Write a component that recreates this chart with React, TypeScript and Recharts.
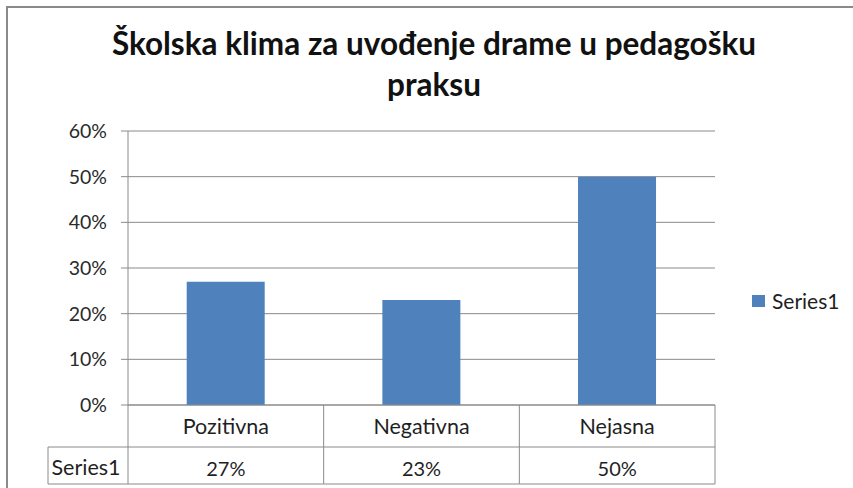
import { BarChart, Bar, XAxis, YAxis, CartesianGrid } from "recharts";

// Excel-style column chart with a data table under the category axis.
const categories = ["Pozitivna", "Negativna", "Nejasna"];
const values = [27, 23, 50];
const yTicks = [0, 10, 20, 30, 40, 50, 60];
const seriesName = "Series1";
const title = ["Školska klima za uvođenje drame u pedagošku", "praksu"];

const W = 853;
const H = 488;
const PLOT_LEFT = 128;
const PLOT_RIGHT = 715;
const PLOT_TOP = 131;
const PLOT_BOTTOM = 405;
const BAND = (PLOT_RIGHT - PLOT_LEFT) / categories.length;

const FONT = "Lato, 'Open Sans', sans-serif";
const TEXT = "#1f1f1f";
const LINE = "#8a8a8a";
const BLUE = "#4f81bd";

const data = categories.map((name, i) => ({ name, value: values[i] }));

function TableTick(props: any) {
  const { x, y, payload, index } = props;
  const left = x - BAND / 2;
  const right = x + BAND / 2;
  const row1 = y + 42;
  const row2 = y + 79;
  return (
    <g fontFamily={FONT} fill={TEXT}>
      <line x1={left} y1={y} x2={left} y2={row2} stroke={LINE} />
      {index === categories.length - 1 && <line x1={right} y1={y} x2={right} y2={row2} stroke={LINE} />}
      <line x1={index === 0 ? 48 : left} y1={row1} x2={right} y2={row1} stroke={LINE} />
      <line x1={index === 0 ? 48 : left} y1={row2} x2={right} y2={row2} stroke={LINE} />
      {index === 0 && (
        <>
          <line x1={48} y1={row1} x2={48} y2={row2} stroke={LINE} />
          <text x={86} y={y + 62} fontSize={21.5} textAnchor="middle" dominantBaseline="central">{seriesName}</text>
        </>
      )}
      <text x={x} y={y + 21} fontSize={21.5} textAnchor="middle" dominantBaseline="central">{payload.value}</text>
      <text x={x} y={y + 63} fontSize={20} textAnchor="middle" dominantBaseline="central">{values[index]}%</text>
    </g>
  );
}

export default function App() {
  return (
    <div style={{ position: "fixed", left: 0, top: 0, width: W, height: H, background: "#fff", overflow: "hidden" }}>
      <div style={{ position: "absolute", left: 6, top: 6, width: 1000, height: 700, border: `2px solid ${LINE}` }} />
      <div style={{ position: "absolute", left: 0, top: 23, width: 868, textAlign: "center", fontFamily: FONT,
        fontWeight: 700, fontSize: 31.5, lineHeight: "41px", color: "#111" }}>
        {title[0]}<br />{title[1]}
      </div>
      <div style={{ position: "absolute", left: 0, top: 0 }}>
        <BarChart width={W} height={H} data={data}
          margin={{ top: PLOT_TOP, right: W - PLOT_RIGHT, left: 0, bottom: 0 }} barCategoryGap="30%">
          <CartesianGrid vertical={false} stroke={LINE} />
          <YAxis width={PLOT_LEFT} domain={[0, 60]} ticks={yTicks} interval={0} tickFormatter={(v) => `${v}%`}
            stroke={LINE} tickSize={7} tickMargin={14}
            tick={{ fill: "#2a2a2a", fontSize: 19.5, fontFamily: FONT }} />
          <XAxis dataKey="name" height={H - PLOT_BOTTOM} stroke={LINE} tickLine={false} tickSize={0} tickMargin={0}
            interval={0} tick={<TableTick />} />
          <Bar dataKey="value" name={seriesName} fill={BLUE} isAnimationActive={false} />
        </BarChart>
      </div>
      <div style={{ position: "absolute", left: 752, top: 288, display: "flex", alignItems: "center", gap: 7,
        fontFamily: FONT, fontSize: 21, color: TEXT }}>
        <span style={{ width: 13, height: 12, background: BLUE, display: "inline-block" }} />
        {seriesName}
      </div>
    </div>
  );
}
